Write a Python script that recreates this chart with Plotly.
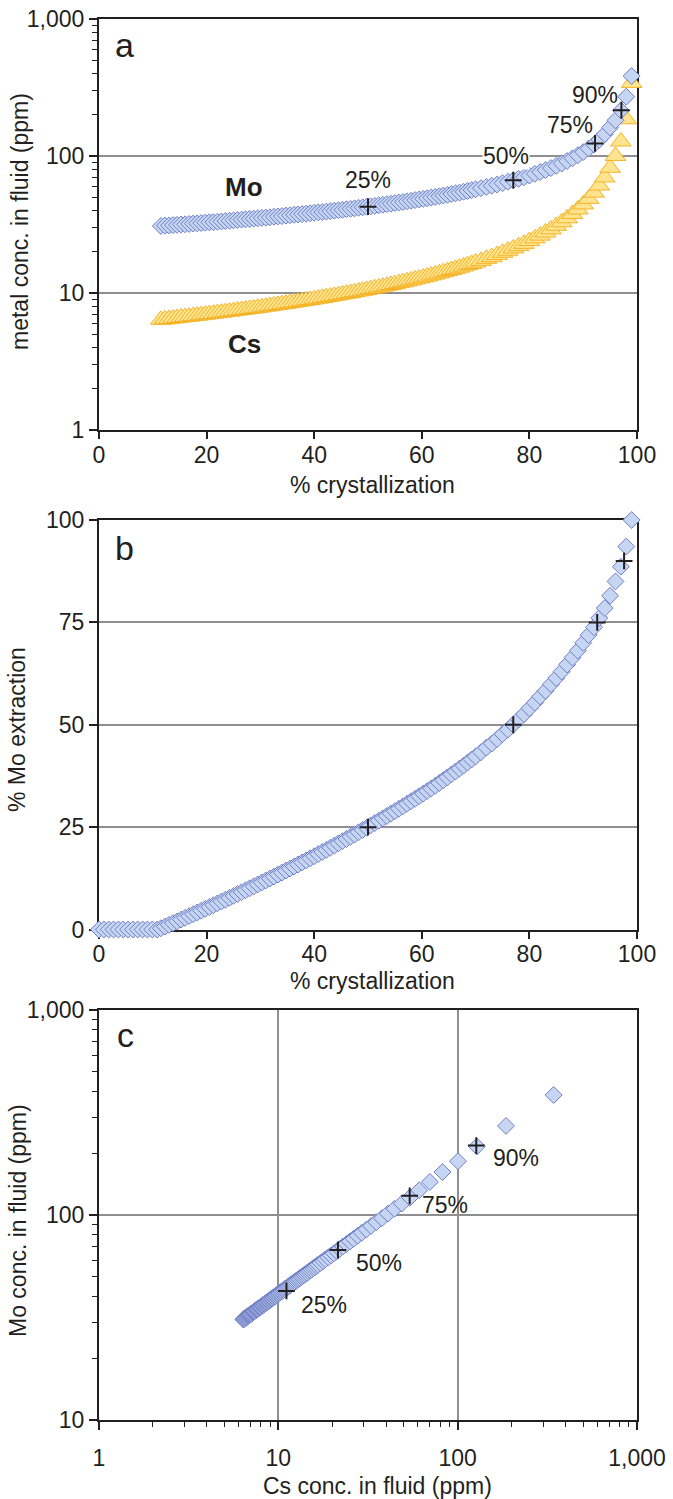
import plotly.graph_objects as go

W, H = 673, 1499

# ---------------- data ----------------
# % crystallization before fluid saturation (no Mo extracted yet)
cryst_dry = [0, 0.9, 1.8, 2.7, 3.6, 4.5, 5.4, 6.3, 7.2, 8.1, 9.0, 9.9, 10.8]
extraction_dry = [0, 0, 0, 0, 0, 0, 0, 0, 0, 0, 0, 0, 0]

# % crystallization once a fluid is present
cryst_fluid = [
    11.5, 12.25, 13, 13.75, 14.5, 15.25, 16, 16.75, 17.5, 18.25,
    19, 19.75, 20.5, 21.25, 22, 22.75, 23.5, 24.25, 25, 25.75,
    26.5, 27.25, 28, 28.75, 29.5, 30.25, 31, 31.75, 32.5, 33.25,
    34, 34.75, 35.5, 36.25, 37, 37.75, 38.5, 39.25, 40, 40.75,
    41.5, 42.25, 43, 43.75, 44.5, 45.25, 46, 46.75, 47.5, 48.25,
    49, 49.75, 50.5, 51.25, 52, 52.75, 53.5, 54.25, 55, 55.75,
    56.5, 57.25, 58, 58.75, 59.5, 60.25, 61, 61.75, 62.5, 63.25,
    64, 64.75, 65.5, 66.25, 67, 67.75, 68.5, 69.25, 70,
    71, 72, 73, 74, 75, 76, 77, 78, 79, 80,
    81, 82, 83, 84, 85, 86, 87, 88, 89, 90,
    91, 92, 93, 94, 95, 96, 97, 98, 99,
]

# Mo concentration in fluid (ppm)
mo_fluid = [
    30.9, 31.1, 31.2, 31.4, 31.5, 31.7, 31.8, 32.0, 32.2, 32.3,
    32.5, 32.7, 32.9, 33.0, 33.2, 33.4, 33.6, 33.8, 34.0, 34.2,
    34.4, 34.6, 34.8, 35.0, 35.2, 35.4, 35.6, 35.8, 36.1, 36.3,
    36.5, 36.8, 37.0, 37.3, 37.5, 37.8, 38.0, 38.3, 38.6, 38.9,
    39.1, 39.4, 39.7, 40.0, 40.3, 40.6, 41.0, 41.3, 41.6, 42.0,
    42.3, 42.7, 43.0, 43.4, 43.8, 44.2, 44.6, 45.0, 45.5, 45.9,
    46.3, 46.8, 47.3, 47.8, 48.3, 48.8, 49.3, 49.9, 50.4, 51.0,
    51.6, 52.2, 52.9, 53.6, 54.2, 55.0, 55.7, 56.5, 57.3,
    58.4, 59.6, 60.8, 62.1, 63.5, 65.0, 66.6, 68.3, 70.2, 72.2,
    74.3, 76.6, 79.2, 81.9, 85.0, 88.4, 92.2, 96.5, 101.5, 107.1,
    113.8, 121.6, 132, 145, 162, 183, 216, 272, 385,
]

# Cs concentration in fluid (ppm)
cs_fluid = [
    6.38, 6.43, 6.47, 6.52, 6.58, 6.63, 6.68, 6.73, 6.79, 6.84,
    6.90, 6.96, 7.02, 7.07, 7.14, 7.20, 7.26, 7.32, 7.39, 7.46,
    7.52, 7.59, 7.66, 7.73, 7.81, 7.88, 7.96, 8.04, 8.12, 8.20,
    8.28, 8.36, 8.45, 8.54, 8.63, 8.72, 8.82, 8.91, 9.01, 9.11,
    9.22, 9.32, 9.43, 9.55, 9.66, 9.78, 9.90, 10.02, 10.15, 10.28,
    10.41, 10.55, 10.70, 10.84, 10.99, 11.15, 11.31, 11.47, 11.64, 11.82,
    12.00, 12.19, 12.38, 12.58, 12.79, 13.00, 13.22, 13.46, 13.69, 13.94,
    14.20, 14.47, 14.75, 15.04, 15.34, 15.66, 15.99, 16.34, 16.70,
    17.2, 17.8, 18.3, 19.0, 19.7, 20.4, 21.2, 22.0, 22.9, 24.0,
    25.1, 26.3, 27.7, 29.2, 31.0, 32.9, 35.2, 37.8, 40.8, 44.4,
    48.8, 54.2, 61.0, 70.0, 82.3, 100.4, 128, 186, 343,
]

# % Mo extraction
mo_extraction = [
    0.29, 0.71, 1.13, 1.55, 1.98, 2.42, 2.85, 3.28, 3.72, 4.16,
    4.60, 5.05, 5.48, 5.93, 6.38, 6.84, 7.28, 7.74, 8.20, 8.66,
    9.12, 9.59, 10.06, 10.53, 11.00, 11.48, 11.96, 12.43, 12.91, 13.40,
    13.89, 14.38, 14.87, 15.37, 15.87, 16.37, 16.87, 17.39, 17.89, 18.41,
    18.93, 19.44, 19.97, 20.50, 21.03, 21.57, 22.10, 22.65, 23.19, 23.75,
    24.30, 24.86, 25.42, 25.99, 26.56, 27.14, 27.72, 28.30, 28.89, 29.48,
    30.09, 30.70, 31.31, 31.92, 32.54, 33.17, 33.80, 34.44, 35.09, 35.77,
    36.46, 37.15, 37.86, 38.57, 39.29, 40.02, 40.76, 41.51, 42.26,
    43.3, 44.4, 45.4, 46.5, 47.7, 48.8, 50.0, 51.3, 52.6, 54.0,
    55.4, 56.9, 58.3, 59.9, 61.4, 63.0, 64.7, 66.4, 68.1, 70.0,
    71.9, 73.8, 76.1, 78.5, 81.5, 85.0, 88.6, 93.5, 100.0,
]

# marked extraction stages
stage_labels = ["25%", "50%", "75%", "90%"]
stage_cryst_a = [50, 77, 92.2, 97.1]
stage_mo_a = [42.8, 66.8, 124, 217]
stage_cryst_b = [50, 77, 92.6, 97.6]
stage_extr_b = [25, 50, 75, 90]
stage_cs_c = [11.1, 21.5, 54, 127]
stage_mo_c = [42.6, 67.5, 124, 218]

log_ticks = [1, 10, 100, 1000]
log_ticktext = ["1", "10", "100", "1,000"]
lin_ticks = [0, 20, 40, 60, 80, 100]
extr_ticks = [0, 25, 50, 75, 100]

# ---------------- styling ----------------
FONT = "Liberation Sans, Arial, Helvetica, sans-serif"
TXT = "#231f20"
MO_FILL, MO_LINE = "#c6d6f2", "#6f7fc6"
CS_FILL, CS_LINE = "#ffe48f", "#f4b326"
GRID = "#8f8f8f"
FS = 23

def px(x):
    return x / W

def py(y):
    return 1 - y / H

XD = [px(99), px(637)]
YA = [py(430), py(19.3)]
YB = [py(929.5), py(520)]
YC = [py(1420), py(1010)]

mo_marker = dict(symbol="diamond", size=13, color=MO_FILL, line=dict(color=MO_LINE, width=1))
cs_marker = dict(symbol="triangle-up", size=18, color=CS_FILL, line=dict(color=CS_LINE, width=1))
cross_marker = dict(symbol="cross-thin", size=12, color=TXT, line=dict(color=TXT, width=2))

fig = go.Figure()

# panel a
fig.add_trace(go.Scatter(x=cryst_fluid, y=cs_fluid, mode="markers", marker=cs_marker,
                         xaxis="x", yaxis="y", cliponaxis=False))
fig.add_trace(go.Scatter(x=cryst_fluid, y=mo_fluid, mode="markers", marker=mo_marker,
                         xaxis="x", yaxis="y", cliponaxis=False))
fig.add_trace(go.Scatter(x=stage_cryst_a, y=stage_mo_a, mode="markers", marker=cross_marker,
                         xaxis="x", yaxis="y", cliponaxis=False))

# panel b
fig.add_trace(go.Scatter(x=cryst_dry + cryst_fluid, y=extraction_dry + mo_extraction,
                         mode="markers", marker=mo_marker, xaxis="x2", yaxis="y2", cliponaxis=False))
fig.add_trace(go.Scatter(x=stage_cryst_b, y=stage_extr_b, mode="markers", marker=cross_marker,
                         xaxis="x2", yaxis="y2", cliponaxis=False))

# panel c
fig.add_trace(go.Scatter(x=cs_fluid, y=mo_fluid, mode="markers", marker=mo_marker,
                         xaxis="x3", yaxis="y3", cliponaxis=False))
fig.add_trace(go.Scatter(x=stage_cs_c, y=stage_mo_c, mode="markers", marker=cross_marker,
                         xaxis="x3", yaxis="y3", cliponaxis=False))

axis_common = dict(
    showline=True, linecolor=TXT, linewidth=2, mirror=True,
    ticks="outside", ticklen=8, tickwidth=1.5, tickcolor=TXT,
    tickfont=dict(family=FONT, size=FS, color=TXT),
    zeroline=False, layer="below traces", fixedrange=True, automargin=False,
)
log_minor = dict(ticks="outside", ticklen=5, tickwidth=1.2, tickcolor=TXT, dtick="D1", showgrid=False)

layout = dict(
    width=W, height=H, margin=dict(l=0, r=0, t=0, b=0, pad=0, autoexpand=False),
    paper_bgcolor="white", plot_bgcolor="white", showlegend=False,
    font=dict(family=FONT, size=FS, color=TXT),
    xaxis=dict(axis_common, domain=XD, anchor="y", range=[0, 100], tickvals=lin_ticks,
               ticklen=7, showgrid=False, ticklabelstandoff=-4),
    yaxis=dict(axis_common, domain=YA, anchor="x", type="log", range=[0, 3],
               tickvals=log_ticks, ticktext=log_ticktext, showgrid=True,
               gridcolor=GRID, gridwidth=1.5, minor=log_minor),
    xaxis2=dict(axis_common, domain=XD, anchor="y2", range=[0, 100], tickvals=lin_ticks,
                ticklen=7, showgrid=False, ticklabelstandoff=-4),
    yaxis2=dict(axis_common, domain=YB, anchor="x2", range=[0, 100], tickvals=extr_ticks,
                showgrid=True, gridcolor=GRID, gridwidth=1.5),
    xaxis3=dict(axis_common, domain=XD, anchor="y3", type="log", range=[0, 3],
                tickvals=log_ticks, ticktext=log_ticktext, showgrid=True,
                gridcolor=GRID, gridwidth=1.5, minor=log_minor, ticklabelstandoff=8),
    yaxis3=dict(axis_common, domain=YC, anchor="x3", type="log", range=[1, 3],
                tickvals=log_ticks[1:], ticktext=log_ticktext[1:], showgrid=True,
                gridcolor=GRID, gridwidth=1.5, minor=log_minor),
)
fig.update_layout(**layout)

ann = []

def label(text, x, y, size=FS, bold=False, angle=0, bg=None):
    d = dict(text=("<b>%s</b>" % text) if bold else text, x=px(x), y=py(y),
             xref="paper", yref="paper", showarrow=False, xanchor="center", yanchor="middle",
             font=dict(family=FONT, size=size, color=TXT), textangle=angle, borderpad=0)
    if bg:
        d["bgcolor"] = bg
    ann.append(d)

# panel letters
label("a", 124, 45, size=34)
label("b", 124, 548, size=34)
label("c", 125, 1035, size=34)

# axis titles
label("metal conc. in fluid (ppm)", 20, 222, angle=-90)
label("% crystallization", 372, 485)
label("% Mo extraction", 17, 730, angle=-90)
label("% crystallization", 372, 981)
label("Mo conc. in fluid (ppm)", 18, 1221, angle=-90)
label("Cs conc. in fluid (ppm)", 377, 1486)

# series labels
label("Mo", 243.5, 187.5, size=26, bold=True)
label("Cs", 244, 344, size=26, bold=True)

# stage labels, panel a
for t, (x, y) in zip(stage_labels, [(368, 180), (505.5, 155.5), (569.5, 125), (594.5, 95)]):
    label(t, x, y, bg="white" if t == "50%" else None)

# stage labels, panel c
for t, (x, y) in zip(stage_labels, [(324, 1305), (379, 1263), (445, 1205), (516, 1158)]):
    label(t, x, y)

fig.update_layout(annotations=ann)
fig.write_html("out.html")
